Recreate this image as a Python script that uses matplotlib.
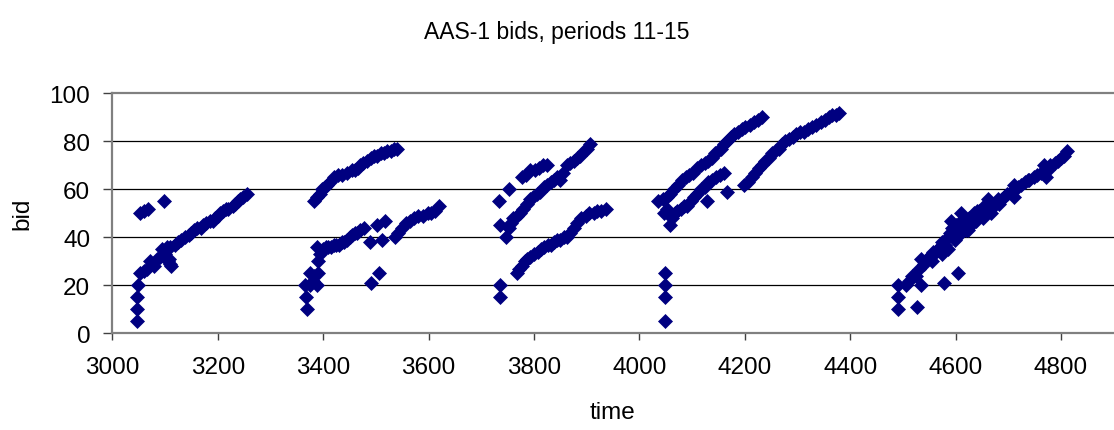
import matplotlib
matplotlib.use('Agg')
import matplotlib.pyplot as plt

plt.rcParams['font.family'] = ['Liberation Sans', 'DejaVu Sans']

# period 11
time1 = [3047, 3047, 3047, 3048, 3052, 3060, 3065, 3072, 3078, 3085, 3090, 3095,
         3100, 3103, 3106, 3110, 3108, 3112, 3052, 3060, 3068, 3098,
         3110, 3118, 3125, 3130, 3138, 3145, 3150, 3155, 3160, 3168, 3172, 3178,
         3185, 3190, 3195, 3200, 3205, 3210, 3215, 3220, 3228, 3232, 3238, 3242,
         3248, 3255]
bid1 = [5, 10, 15, 20, 25, 26, 27, 30, 28, 31, 32, 35,
        33, 36, 30, 29, 31, 28, 50, 51, 52, 55,
        36, 37, 38, 39, 40, 41, 42, 43, 44, 44, 45, 46,
        47, 47, 48, 49, 50, 51, 52, 52, 53, 54, 55, 56,
        57, 58]

# period 12
time2 = [3369, 3367, 3365, 3375, 3380, 3388, 3375, 3382, 3390, 3391, 3393, 3389,
         3400, 3405, 3410, 3415, 3420, 3425, 3430, 3435, 3440, 3445, 3450, 3455,
         3460, 3465, 3470, 3477, 3489, 3502, 3518, 3511, 3491, 3505,
         3537, 3542, 3550, 3558, 3565, 3572, 3580, 3590, 3598, 3605, 3612, 3620,
         3382, 3388, 3393, 3398, 3403, 3408, 3413, 3420, 3428, 3436, 3445, 3454,
         3460, 3466, 3470, 3476, 3483, 3490, 3496, 3502, 3510, 3515, 3521, 3528,
         3534, 3540]
bid2 = [10, 15, 20, 20, 22, 20, 25, 24, 25, 30, 33, 36,
        35, 36, 36, 36, 37, 37, 37, 38, 38, 39, 40, 41,
        42, 42, 43, 44, 38, 45, 47, 39, 21, 25,
        40, 42, 44, 46, 47, 48, 49, 49, 50, 50, 51, 53,
        55, 57, 58, 60, 61, 62, 63, 65, 66, 66, 67, 68,
        68, 69, 70, 71, 72, 73, 74, 74, 75, 75, 76, 76,
        77, 77]

# period 13
time3 = [3736, 3736,
         3768, 3772, 3778, 3783, 3787, 3793, 3800, 3807, 3813, 3819, 3826, 3832,
         3838, 3844, 3850, 3856, 3863, 3868, 3875, 3882, 3890, 3898, 3905, 3913,
         3920, 3928, 3936,
         3736, 3746, 3752, 3757, 3761, 3767, 3774, 3780, 3786, 3793, 3799, 3806,
         3812, 3819, 3825, 3832, 3838, 3844, 3850, 3855, 3863, 3869, 3876, 3882,
         3888, 3894, 3900, 3907,
         3733, 3752, 3777, 3785, 3793, 3801, 3809, 3817, 3825]
bid3 = [15, 20,
        25, 27, 28, 30, 31, 32, 33, 34, 35, 36, 37, 37,
        38, 39, 39, 40, 40, 42, 44, 46, 48, 49, 50, 50,
        51, 51, 52,
        45, 40, 44, 46, 48, 49, 50, 52, 54, 56, 57, 58,
        59, 61, 62, 63, 64, 65, 64, 67, 70, 71, 72, 73,
        74, 76, 77, 79,
        55, 60, 65, 66, 68, 68, 69, 70, 70]

# period 14
time4 = [4048, 4048, 4048, 4048,
         4036, 4044, 4052, 4059, 4066, 4073, 4081, 4088, 4095, 4102, 4110, 4117,
         4124, 4131, 4137, 4143, 4149, 4155, 4161, 4167, 4173, 4180, 4188, 4195,
         4201, 4209, 4217, 4225, 4233,
         4046, 4053, 4058, 4062, 4067, 4072, 4078, 4084, 4091, 4097, 4103, 4110,
         4117, 4124, 4131, 4138, 4145, 4152, 4160,
         4129, 4167, 4198, 4206,
         4214, 4220, 4226, 4232, 4239, 4246, 4252, 4258, 4264, 4270, 4277, 4284,
         4291, 4298, 4305, 4312, 4320, 4328, 4336, 4344, 4352, 4360, 4366, 4373,
         4379]
bid4 = [5, 15, 20, 25,
        55, 56, 57, 58, 60, 62, 64, 65, 66, 67, 69, 70,
        71, 72, 73, 75, 76, 77, 79, 80, 82, 83, 84, 85,
        86, 87, 88, 89, 90,
        50, 52, 45, 48, 50, 51, 52, 53, 53, 55, 57, 58,
        60, 61, 63, 64, 65, 66, 67,
        55, 59, 62, 63,
        65, 67, 69, 70, 72, 73, 75, 76, 77, 79, 80, 81,
        82, 83, 84, 84, 85, 86, 87, 88, 89, 90, 91, 91,
        92]

# period 15
time5 = [4490, 4491, 4491, 4526, 4578, 4605,
         4505, 4512, 4518, 4525, 4530, 4534, 4534, 4540, 4545, 4550, 4556, 4558,
         4562, 4566, 4570, 4575, 4575, 4580, 4585, 4585, 4590, 4591, 4594, 4598,
         4600, 4603, 4606, 4610, 4610, 4612, 4615, 4618, 4620, 4623, 4625, 4628,
         4630, 4635, 4638, 4640, 4642, 4645, 4650, 4652, 4654, 4658, 4661, 4662,
         4667, 4668, 4672, 4678, 4680, 4682, 4688, 4692, 4698, 4705, 4711, 4711,
         4718, 4725, 4732, 4737, 4740, 4748, 4755, 4762, 4768, 4771, 4775, 4780,
         4788, 4795, 4800, 4806, 4812]
bid5 = [20, 15, 10, 11, 21, 25,
        20, 22, 24, 24, 27, 20, 31, 29, 31, 32, 30, 34,
        34, 35, 36, 38, 33, 37, 40, 35, 42, 47, 44, 39,
        45, 42, 46, 50, 42, 44, 47, 45, 43, 43, 48, 46,
        45, 50, 47, 51, 49, 51, 49, 48, 53, 51, 56, 52,
        50, 54, 53, 55, 56, 54, 56, 57, 58, 59, 62, 57,
        61, 62, 63, 64, 64, 65, 66, 67, 70, 65, 68, 70,
        71, 72, 73, 74, 76]

periods = [(time1, bid1), (time2, bid2), (time3, bid3), (time4, bid4), (time5, bid5)]

W, H = 1114, 431
fig = plt.figure(figsize=(W / 100, H / 100), dpi=100)
ax = fig.add_axes([112.4 / W, (H - 334.3) / H, (1113.7 - 112.4) / W, (334.3 - 94.3) / H])

for t, b in periods:
    ax.plot(t, b, linestyle='none', marker='D', markersize=7,
            color='#000080', markeredgecolor='#000080', markeredgewidth=0.5,
            zorder=3, clip_on=False)

ax.set_xlim(3000, 4900)
ax.set_ylim(0, 100)
ax.set_xticks(range(3000, 4801, 200))
ax.set_yticks(range(0, 101, 20))

for y in [20, 40, 60, 80]:
    ax.axhline(y, color='black', lw=0.9, zorder=1)

for s in ['left', 'bottom', 'top']:
    ax.spines[s].set_color('#808080')
    ax.spines[s].set_linewidth(1.6)
ax.spines['right'].set_visible(False)

ax.tick_params(axis='y', length=6.5, width=1, color='#404040', pad=9.4, labelsize=17.5)
ax.tick_params(axis='x', length=5, width=1, color='#404040', pad=11, labelsize=17.5)

fig.text(0.5, 1 - 33 / H, 'AAS-1 bids, periods 11-15', ha='center', va='center', fontsize=16.5)
fig.text(22 / W, 1 - 214.3 / H, 'bid', ha='center', va='center', rotation=90, fontsize=17.5)
fig.text(612 / W, 1 - 413 / H, 'time', ha='center', va='center', fontsize=17.5)

fig.savefig('out.png', dpi=100)
